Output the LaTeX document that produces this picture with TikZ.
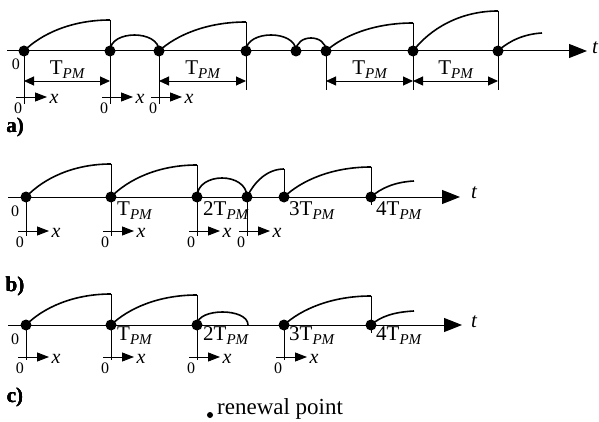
\documentclass[tikz,border=0pt]{standalone}
\usepackage{fontspec}
\setmainfont{Liberation Serif}
\usetikzlibrary{arrows.meta}
% T with subscript PM
\newcommand\Tpm[1][]{#1T\raisebox{-4pt}{\fontsize{15}{15}\selectfont\itshape PM}}
% rising renewal-cycle curve: x0, x1, top, axis
\newcommand\riseseg[4]{\draw[curve] (#1,#4) .. controls ({#1+0.2*(#2-#1)},{#3+0.45*(#4-#3)}) and ({#1+0.55*(#2-#1)},#3) .. (#2,#3);}
% arch-shaped curve: x0, x1, top, axis
\newcommand\archseg[4]{\draw[curve] (#1,#4) .. controls (#1,{#4-(#4-#3)/0.75}) and (#2,{#4-(#4-#3)/0.75}) .. (#2,#4);}
% local time axis starting at an origin: x, y
\newcommand\localaxis[2]{%
  \draw[guide,-{Triangle[length=12pt,width=9pt]}] ({#1-8},#2) -- ({#1+23},#2);
  \node[lbl,font=\fontsize{20}{20}\selectfont\itshape] at ({#1+30},{#2+2}) {x};
  \node[zero] at ({#1-6},{#2+11}) {0};}
\begin{document}
\begin{tikzpicture}[x=1pt,y=-1pt,
  axisline/.style={line width=1pt,-{Triangle[length=18pt,width=14pt]}},
  curve/.style={line width=1.6pt},
  guide/.style={line width=0.9pt},
  dimline/.style={line width=0.9pt,{Triangle[length=10pt,width=9pt]}-{Triangle[length=10pt,width=9pt]}},
  renew/.style={circle,fill=black,inner sep=0pt,minimum size=11pt},
  lbl/.style={font=\fontsize{21}{21}\selectfont,inner sep=0pt},
  zero/.style={font=\fontsize{16}{16}\selectfont,inner sep=0pt},
  tag/.style={font=\fontsize{21}{21}\selectfont\bfseries,inner sep=0pt}]
\useasboundingbox (0,0) rectangle (599,422);

% ---------------- a) ----------------
\draw[axisline] (7,51) -- (587,51);
\node[lbl,font=\fontsize{21}{21}\selectfont\itshape] (ta) at (595,48) {t};
\riseseg{24}{110}{20}{51}
\archseg{110}{159}{35}{51}
\riseseg{159}{246}{22}{51}
\archseg{246}{296}{35}{51}
\archseg{296}{326}{38}{51}
\riseseg{326}{413}{23}{51}
\riseseg{413}{498}{11}{51}
\draw[curve] (498,51) .. controls (510,40) and (525,34) .. (542,33);
\draw[guide] (24,51) -- (24,104);
\draw[guide] (110,20) -- (110,104);
\draw[guide] (159,51) -- (159,104);
\draw[guide] (246,22) -- (246,90);
\draw[guide] (326,51) -- (326,90);
\draw[guide] (413,23) -- (413,90);
\draw[guide] (498,11) -- (498,90);
\foreach \xa/\xb in {24/110,159/246,326/413,413/498}{
  \draw[dimline] (\xa,81) -- (\xb,81);
  \node[lbl] at ({(\xa+\xb)/2},70) {\Tpm};
}
\foreach \x [count=\i] in {24,110,159,246,296,326,413,498}
  \node[renew] (a\i) at (\x,51) {};
\node[zero] at (16,64) {0};
\foreach \x in {24,110,159} \localaxis{\x}{97}
\node[tag] at (15,127) {a)};

% ---------------- b) ----------------
\draw[axisline] (8,197) -- (460,197);
\node[lbl,font=\fontsize{21}{21}\selectfont\itshape] (tb) at (474,193) {t};
\riseseg{26}{111}{164}{197}
\riseseg{111}{197}{165}{197}
\archseg{197}{247}{178}{197}
\riseseg{247}{284}{169}{197}
\riseseg{284}{371}{167}{197}
\draw[curve] (371,197) .. controls (381,188) and (395,182) .. (414,181);
\draw[guide] (26,197) -- (26,236);
\draw[guide] (111,164) -- (111,236);
\draw[guide] (197,165) -- (197,236);
\draw[guide] (247,197) -- (247,236);
\draw[guide] (284,169) -- (284,200);
\draw[guide] (371,167) -- (371,205);
\foreach \x [count=\i] in {26,111,197,247,284,371}
  \node[renew] (b\i) at (\x,197) {};
\node[zero] at (15,211) {0};
\node[lbl,anchor=west] at (117,211) {\Tpm};
\node[lbl,anchor=west] at (203,211) {\Tpm[2]};
\node[lbl,anchor=west] at (289,211) {\Tpm[3]};
\node[lbl,anchor=west] at (376,211) {\Tpm[4]};
\foreach \x in {26,111,197,247} \localaxis{\x}{231}
\node[tag] at (15,286) {b)};

% ---------------- c) ----------------
\draw[axisline] (8,325) -- (462,325);
\node[lbl,font=\fontsize{21}{21}\selectfont\itshape] (tc) at (474,322) {t};
\riseseg{26}{111}{294}{325}
\riseseg{111}{197}{295}{325}
\archseg{197}{248}{312}{325}
\riseseg{284}{371}{296}{325}
\draw[curve] (371,325) .. controls (381,316) and (395,312) .. (414,311);
\draw[guide] (26,325) -- (26,360);
\draw[guide] (111,294) -- (111,360);
\draw[guide] (197,295) -- (197,360);
\draw[guide] (284,325) -- (284,360);
\draw[guide] (371,296) -- (371,333);
\foreach \x [count=\i] in {26,111,197,284,371}
  \node[renew] (c\i) at (\x,325) {};
\node[zero] at (15,339) {0};
\node[lbl,anchor=west] at (117,336) {\Tpm};
\node[lbl,anchor=west] at (203,336) {\Tpm[2]};
\node[lbl,anchor=west] at (289,336) {\Tpm[3]};
\node[lbl,anchor=west] at (376,336) {\Tpm[4]};
\foreach \x in {26,111,197,284} \localaxis{\x}{357}
\node[tag] at (15,397) {c)};

% ---------------- legend ----------------
\node[circle,fill=black,inner sep=0pt,minimum size=6pt] (key) at (210,415) {};
\node[lbl,font=\fontsize{23}{23}\selectfont,anchor=west] (keytext) at (217,409) {renewal point};
\end{tikzpicture}
\end{document}
